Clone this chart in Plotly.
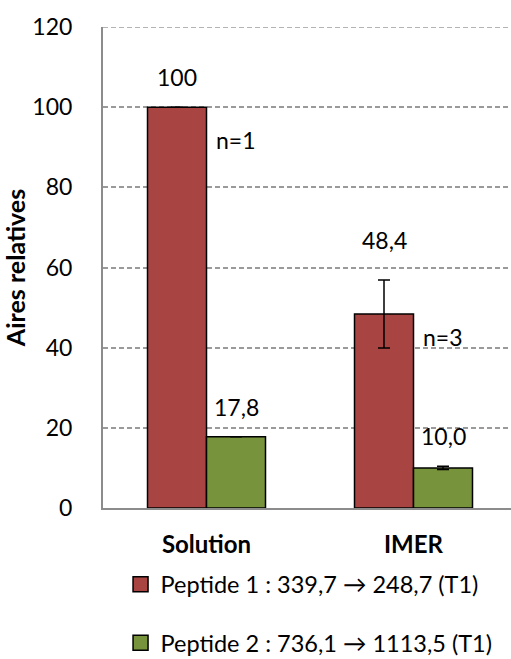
import plotly.graph_objects as go

categories = ["Solution", "IMER"]
series_names = ["Peptide 1 : 339,7 \u2192 248,7 (T1)", "Peptide 2 : 736,1 \u2192 1113,5 (T1)"]
peptide1 = [100, 48.4]
peptide2 = [17.8, 10.0]
peptide1_err = [0, 8.5]
peptide2_err = [0, 0.4]
value_labels1 = ["100", "48,4"]
value_labels2 = ["17,8", "10,0"]
n_labels = ["n=1", "n=3"]
n_label_y = [91.8, 42.7]
y_ticks = [0, 20, 40, 60, 80, 100, 120]

RED = "#A84543"
GREEN = "#77933C"
FONT = "Lato, 'Open Sans', sans-serif"
BARGAP = 0.43
bar_w = (1 - BARGAP) / 2

fig = go.Figure()
fig.add_trace(go.Bar(
    x=categories, y=peptide1, name=series_names[0], showlegend=False,
    marker=dict(color=RED, line=dict(color="black", width=1.5)),
    error_y=dict(type="data", array=peptide1_err, visible=True, color="black", thickness=1.5, width=6),
))
fig.add_trace(go.Bar(
    x=categories, y=peptide2, name=series_names[1], showlegend=False,
    marker=dict(color=GREEN, line=dict(color="black", width=1.5)),
    error_y=dict(type="data", array=peptide2_err, visible=True, color="black", thickness=1.5, width=6),
))
# legend entries
for nm, col, grp in [(series_names[0], RED, "a"), (series_names[1], GREEN, "b")]:
    fig.add_trace(go.Scatter(
        x=[None], y=[None], mode="markers", name=nm, legendgroup=grp,
        marker=dict(symbol="square", size=15, color=col, line=dict(color="black", width=1.5)),
    ))

annotations = []
for i, cat in enumerate(categories):
    x1 = i - bar_w / 2
    x2 = i + bar_w / 2
    top1 = peptide1[i] + peptide1_err[i]
    top2 = peptide2[i] + peptide2_err[i]
    annotations.append(dict(x=x1, y=top1, text=value_labels1[i], showarrow=False,
                            yanchor="bottom", yshift=(14 if peptide1_err[i] == 0 else 24)))
    annotations.append(dict(x=x2, y=top2, text=value_labels2[i], showarrow=False,
                            yanchor="bottom", yshift=14))
    annotations.append(dict(x=x2, y=n_label_y[i], text=n_labels[i], showarrow=False,
                            yanchor="middle"))
for a in annotations:
    a.update(xref="x", yref="y", font=dict(family=FONT, size=23, color="black"))

fig.add_shape(type="line", xref="paper", yref="y", x0=0, x1=1, y0=max(y_ticks), y1=max(y_ticks),
              line=dict(color="#9A9A9A", width=1.5, dash="5px,3px"))

fig.update_layout(
    width=511, height=659,
    margin=dict(l=103, r=0, t=27, b=151, autoexpand=False),
    paper_bgcolor="white", plot_bgcolor="white",
    barmode="group", bargap=BARGAP, bargroupgap=0,
    font=dict(family=FONT, size=23, color="black"),
    annotations=annotations,
    legend=dict(
        x=0.043, y=-0.113, xanchor="left", yanchor="top",
        traceorder="grouped", tracegroupgap=25,
        font=dict(family=FONT, size=23.5, color="black"),
        bgcolor="rgba(0,0,0,0)",
    ),
    xaxis=dict(
        type="category", range=[-0.5, 1.471], automargin=False,
        showline=True, linecolor="#8C8C8C", linewidth=2,
        ticks="", ticklabelstandoff=14,
        tickfont=dict(family=FONT, size=24, color="black", weight="bold"),
        showgrid=False, zeroline=False,
    ),
    yaxis=dict(
        range=[0, 120], tickvals=y_ticks, automargin=False,
        showline=True, linecolor="#8C8C8C", linewidth=2,
        ticks="", ticklabelstandoff=24,
        tickfont=dict(family=FONT, size=23, color="black"),
        showgrid=True, gridcolor="#9A9A9A", gridwidth=1.5, griddash="5px,3px",
        zeroline=False,
        title=dict(text="<b>Aires relatives</b>", standoff=6,
                   font=dict(family=FONT, size=25, color="black")),
    ),
)

fig.write_html("out.html", config={"displayModeBar": False},
               post_script="document.body.style.margin='0';document.body.style.overflow='hidden';")
